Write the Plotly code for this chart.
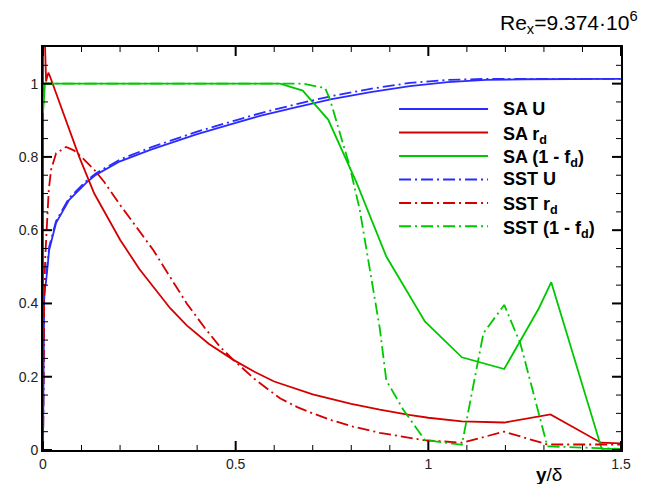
import plotly.graph_objects as go

# cores (estilo tecplot)
COLOR_U = "#2b2bff"
COLOR_RD = "#d40000"
COLOR_FD = "#00c800"
DASHDOT = "12px,4px,2px,4px"
FONT = "Liberation Sans, Arial, sans-serif"

# ---- dados ----
sa_u_x = [0, 0.0005, 0.001, 0.002, 0.003, 0.005, 0.008, 0.016, 0.034, 0.068, 0.112, 0.137,
          0.2, 0.28, 0.4, 0.5, 0.563, 0.65, 0.749, 0.85, 0.952, 1.05, 1.15, 1.25, 1.35, 1.5]
sa_u_y = [0, 0.08, 0.2, 0.33, 0.41, 0.44, 0.46, 0.546, 0.62, 0.683, 0.729, 0.751,
          0.788, 0.82, 0.862, 0.893, 0.912, 0.934, 0.958, 0.977, 0.993, 1.004, 1.01, 1.012, 1.013, 1.013]

sst_u_x = sa_u_x
sst_u_y = [0, 0.1, 0.22, 0.35, 0.42, 0.45, 0.47, 0.555, 0.625, 0.688, 0.734, 0.755,
           0.793, 0.826, 0.869, 0.9, 0.919, 0.942, 0.966, 0.986, 1.002, 1.01, 1.013, 1.013, 1.013, 1.013]

sa_rd_x = [0, 0.0003, 0.001, 0.002, 0.004, 0.006, 0.008, 0.011, 0.014, 0.018, 0.05, 0.094, 0.133,
           0.2, 0.25, 0.286, 0.33, 0.373, 0.43, 0.494, 0.55, 0.6, 0.7, 0.8, 0.874, 0.95, 1.0,
           1.087, 1.197, 1.317, 1.448, 1.5]
sa_rd_y = [0, 3.0, 1.6, 1.3, 1.15, 1.05, 1.006, 1.02, 1.03, 1.02, 0.926, 0.80, 0.70,
           0.574, 0.494, 0.445, 0.387, 0.34, 0.29, 0.246, 0.213, 0.187, 0.152, 0.126, 0.11, 0.096, 0.088,
           0.078, 0.075, 0.097, 0.02, 0.018]

sst_rd_x = [0, 0.001, 0.003, 0.006, 0.0095, 0.015, 0.021, 0.034, 0.06, 0.08, 0.1, 0.133, 0.16, 0.2,
            0.24, 0.286, 0.33, 0.373, 0.42, 0.459, 0.494, 0.55, 0.615, 0.66, 0.7, 0.75, 0.8, 0.874,
            0.987, 1.087, 1.197, 1.309, 1.5]
sst_rd_y = [0, 0.25, 0.42, 0.53, 0.60, 0.71, 0.765, 0.81, 0.827, 0.818, 0.80, 0.765, 0.73, 0.669,
            0.612, 0.546, 0.472, 0.40, 0.333, 0.282, 0.246, 0.193, 0.141, 0.117, 0.10, 0.081, 0.065, 0.047,
            0.027, 0.02, 0.05, 0.015, 0.015]

sa_fd_x = [0, 0.002, 0.005, 0.615, 0.674, 0.74, 0.814, 0.891, 0.991, 1.087, 1.197, 1.287, 1.319, 1.45, 1.5]
sa_fd_y = [0.92, 0.97, 1.0, 1.0, 0.981, 0.902, 0.729, 0.528, 0.351, 0.253, 0.221, 0.387, 0.458, 0.003, 0.003]

sst_fd_x = [0, 0.003, 0.675, 0.732, 0.745, 0.796, 0.822, 0.844, 0.874, 0.891, 0.935, 0.991,
            1.087, 1.143, 1.197, 1.239, 1.309, 1.5]
sst_fd_y = [0.93, 1.0, 1.0, 0.988, 0.956, 0.774, 0.656, 0.519, 0.332, 0.19, 0.11, 0.027,
            0.014, 0.319, 0.396, 0.29, 0.01, 0.003]

# marcas dos eixos
x_major = [0, 0.5, 1, 1.5]
x_minor = [0.1, 0.2, 0.3, 0.4, 0.6, 0.7, 0.8, 0.9, 1.1, 1.2, 1.3, 1.4]
y_major = [0, 0.2, 0.4, 0.6, 0.8, 1.0]
y_minor = [0.05, 0.1, 0.15, 0.25, 0.3, 0.35, 0.45, 0.5, 0.55, 0.65, 0.7, 0.75,
           0.85, 0.9, 0.95, 1.05]
X_RANGE = [0, 1.5]
Y_RANGE = [0, 1.1]

W, H = 649, 484
MARGEM = dict(l=43, r=28, t=47, b=34)
PX_X = (W - MARGEM["l"] - MARGEM["r"]) / (X_RANGE[1] - X_RANGE[0])
PX_Y = (H - MARGEM["t"] - MARGEM["b"]) / (Y_RANGE[1] - Y_RANGE[0])

series = [
    ("SA U", sa_u_x, sa_u_y, COLOR_U, "solid"),
    ("SA r<sub>d</sub>", sa_rd_x, sa_rd_y, COLOR_RD, "solid"),
    ("SA (1 - f<sub>d</sub>)", sa_fd_x, sa_fd_y, COLOR_FD, "solid"),
    ("SST U", sst_u_x, sst_u_y, COLOR_U, DASHDOT),
    ("SST r<sub>d</sub>", sst_rd_x, sst_rd_y, COLOR_RD, DASHDOT),
    ("SST (1 - f<sub>d</sub>)", sst_fd_x, sst_fd_y, COLOR_FD, DASHDOT),
]

fig = go.Figure()
for nome, xs, ys, cor, dash in series:
    fig.add_trace(go.Scatter(x=xs, y=ys, name=nome, mode="lines",
                             line=dict(color=cor, width=1.8, dash=dash),
                             showlegend=False))


# ticks para dentro nos quatro lados (ticks="inside" não aparece aqui)
def tracos_ticks(xv, yv, comp, larg):
    dx = comp / PX_X
    dy = comp / PX_Y
    tx, ty = [], []
    for v in xv:
        tx += [v, v, None, v, v, None]
        ty += [Y_RANGE[0], Y_RANGE[0] + dy, None, Y_RANGE[1], Y_RANGE[1] - dy, None]
    for v in yv:
        tx += [X_RANGE[0], X_RANGE[0] + dx, None, X_RANGE[1], X_RANGE[1] - dx, None]
        ty += [v, v, None, v, v, None]
    fig.add_trace(go.Scatter(x=tx, y=ty, mode="lines", hoverinfo="skip",
                             line=dict(color="black", width=larg), showlegend=False))


tracos_ticks(x_major, y_major, 9, 2)
tracos_ticks(x_minor, y_minor, 5, 1)

# legenda desenhada à mão (linhas longas como no tecplot)
leg_y0 = 0.846
leg_dy = 0.0582
for i, (nome, xs, ys, cor, dash) in enumerate(series):
    yy = leg_y0 - i * leg_dy
    fig.add_shape(type="line", xref="paper", yref="paper",
                  x0=0.616, x1=0.770, y0=yy, y1=yy,
                  line=dict(color=cor, width=2, dash=dash))
    shift = -3 if "sub" in nome else 0
    fig.add_annotation(xref="paper", yref="paper", x=0.793, y=yy, yshift=shift,
                       text=f"<b>{nome}</b>", showarrow=False,
                       xanchor="left", yanchor="middle",
                       font=dict(family=FONT, size=18, color="black"))

# título Re_x
fig.add_annotation(xref="paper", yref="paper", x=1.033, y=1.062,
                   text="Re<sub>x</sub>=9.374·10<sup>6</sup>", showarrow=False,
                   xanchor="right", yanchor="middle",
                   font=dict(family=FONT, size=21, color="black"))

# rótulo eixo x
fig.add_annotation(xref="paper", yref="paper", x=0.875, y=-0.06,
                   text="<b>y</b>/δ", showarrow=False,
                   xanchor="center", yanchor="middle",
                   font=dict(family=FONT, size=19, color="black"))

eixo = dict(showline=True, linewidth=2, linecolor="black", mirror=True,
            ticks="", showgrid=False, zeroline=False,
            tickfont=dict(family=FONT, size=14, color="#222"))

fig.update_layout(
    width=W, height=H,
    margin=MARGEM,
    plot_bgcolor="white", paper_bgcolor="white",
    showlegend=False,
    xaxis=dict(range=X_RANGE, tickvals=x_major, **eixo),
    yaxis=dict(range=Y_RANGE, tickvals=y_major, **eixo),
)

fig.write_html("out.html", config={"displayModeBar": False},
               post_script="document.body.style.margin='0';")
